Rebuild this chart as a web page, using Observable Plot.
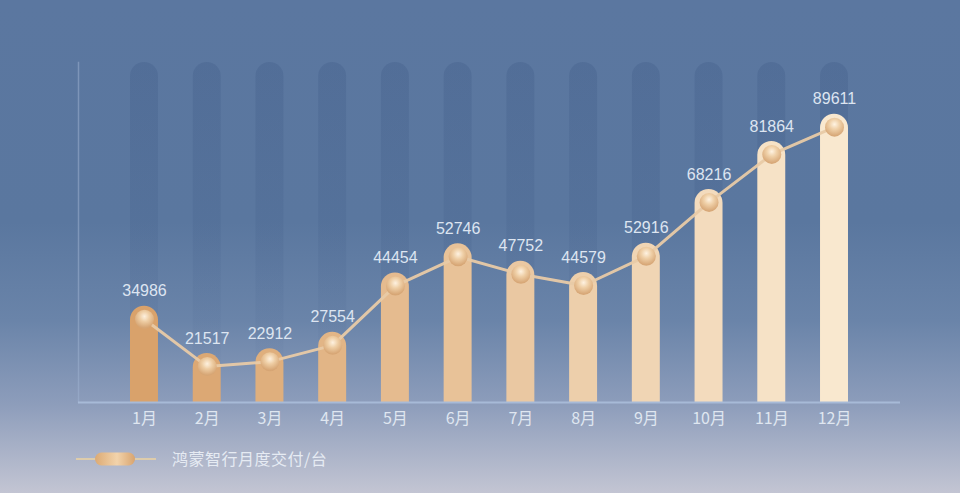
<!DOCTYPE html>
<html>
<head>
<meta charset="utf-8">
<script src="https://cdn.jsdelivr.net/npm/d3@7"></script>
<script src="https://cdn.jsdelivr.net/npm/@observablehq/plot@0.6"></script>
<style>
  html, body { margin: 0; padding: 0; }
  body {
    width: 960px; height: 493px; overflow: hidden;
    background: linear-gradient(to bottom, #5b77a0 0%, #5a779f 45%, #6a84a9 65%, #8d9dbb 82%, #c3c5d3 100%);
    font-family: "Noto Sans CJK SC", "Noto Sans", sans-serif;
  }
  #legend { position: relative; height: 53px; }
  #legend span { position: absolute; left: 172px; top: 7px; font-size: 16px; line-height: 22px; color: #e6ebf3; letter-spacing: 0.5px; }
  #legend svg { position: absolute; left: 76px; top: 9px; }
</style>
</head>
<body>
<div id="chart"></div>
<div id="legend">
  <svg width="90" height="20">
    <defs>
      <linearGradient id="pillGrad" x1="0" x2="1" y1="0" y2="0">
        <stop offset="0" stop-color="#dcaa74"/>
        <stop offset="0.55" stop-color="#f2d3ab"/>
        <stop offset="1" stop-color="#d8a46f"/>
      </linearGradient>
    </defs>
    <line x1="0" x2="20" y1="10" y2="10" stroke="#e6d0a6" stroke-width="2" stroke-opacity="0.85"/>
    <line x1="58" x2="80" y1="10" y2="10" stroke="#e6d0a6" stroke-width="2" stroke-opacity="0.85"/>
    <rect x="19" y="3.5" width="40" height="13" rx="6.5" fill="url(#pillGrad)"/>
  </svg>
  <span id="legendText"></span>
</div>
<script>
const months = ["1月","2月","3月","4月","5月","6月","7月","8月","9月","10月","11月","12月"];
const deliveries = [34986, 21517, 22912, 27554, 44454, 52746, 47752, 44579, 52916, 68216, 81864, 89611];
const seriesName = "鸿蒙智行月度交付/台";
const yMin = 11300, yMax = 108000;

const data = months.map((m, i) => ({month: m, value: deliveries[i], idx: i}));
document.getElementById("legendText").textContent = seriesName;

const defsMark = () => {
  const defs = d3.create("svg:defs");
  const g = defs.append("linearGradient").attr("id", "ghostGrad").attr("x1", 0).attr("x2", 0).attr("y1", 0).attr("y2", 1);
  g.append("stop").attr("offset", 0).attr("stop-color", "#2f4a78").attr("stop-opacity", 0.2);
  g.append("stop").attr("offset", 0.5).attr("stop-color", "#2f4a78").attr("stop-opacity", 0.12);
  g.append("stop").attr("offset", 1).attr("stop-color", "#2f4a78").attr("stop-opacity", 0.0);
  const r = defs.append("radialGradient").attr("id", "dotGrad").attr("cx", "50%").attr("cy", "35%").attr("r", "60%");
  r.append("stop").attr("offset", 0).attr("stop-color", "#fff4e4");
  r.append("stop").attr("offset", 0.45).attr("stop-color", "#efcfa6");
  r.append("stop").attr("offset", 1).attr("stop-color", "#d6a574");
  const f = defs.append("filter").attr("id", "ghostBlur").attr("x", "-30%").attr("y", "-10%").attr("width", "160%").attr("height", "120%");
  f.append("feGaussianBlur").attr("stdDeviation", 3);
  return defs.node();
};

const chart = Plot.plot({
  width: 960,
  height: 440,
  marginLeft: 78,
  marginRight: 60,
  marginTop: 62,
  marginBottom: 38,
  style: {background: "transparent", overflow: "visible"},
  x: {domain: months, paddingInner: 0.554, paddingOuter: 0.829, round: false, label: null},
  y: {domain: [yMin, yMax], axis: null},
  color: {type: "linear", domain: [0, months.length - 1], range: ["#d9a26b", "#f9e8cf"], interpolate: "rgb"},
  marks: [
    defsMark,
    Plot.barY(data, {x: "month", y1: yMin, y2: yMax, fill: "url(#ghostGrad)", rx: 14, ariaLabel: "ghost"}),
    Plot.frame({anchor: "left", stroke: "#9fb3d1", strokeOpacity: 0.5, strokeWidth: 1.5}),
    Plot.barY(data, {x: "month", y1: yMin, y2: "value", fill: "idx", rx: 14, insetTop: -13, insetBottom: -20, clip: true}),
    Plot.ruleY([yMin], {stroke: "#a7bad7", strokeWidth: 2}),
    Plot.line(data, {x: "month", y: "value", stroke: "#e8caa6", strokeWidth: 3, strokeOpacity: 0.95}),
    Plot.dot(data, {x: "month", y: "value", r: 9.5, fill: "url(#dotGrad)", fillOpacity: 0.95}),
    Plot.text(data, {x: "month", y: "value", text: d => String(d.value), dy: -28, fill: "#dde5f1", fontSize: 16, fontFamily: "Liberation Sans, Arial, sans-serif"}),
    Plot.axisX({tickSize: 0, tickPadding: 10, fontSize: 16, fill: "#dfe6f0", fontFamily: "Noto Sans CJK SC, sans-serif", label: null})
  ]
});
const ghost = chart.querySelector('g[aria-label="ghost"]');
if (ghost) ghost.setAttribute("filter", "url(#ghostBlur)");
document.getElementById("chart").appendChild(chart);
</script>
</body>
</html>
